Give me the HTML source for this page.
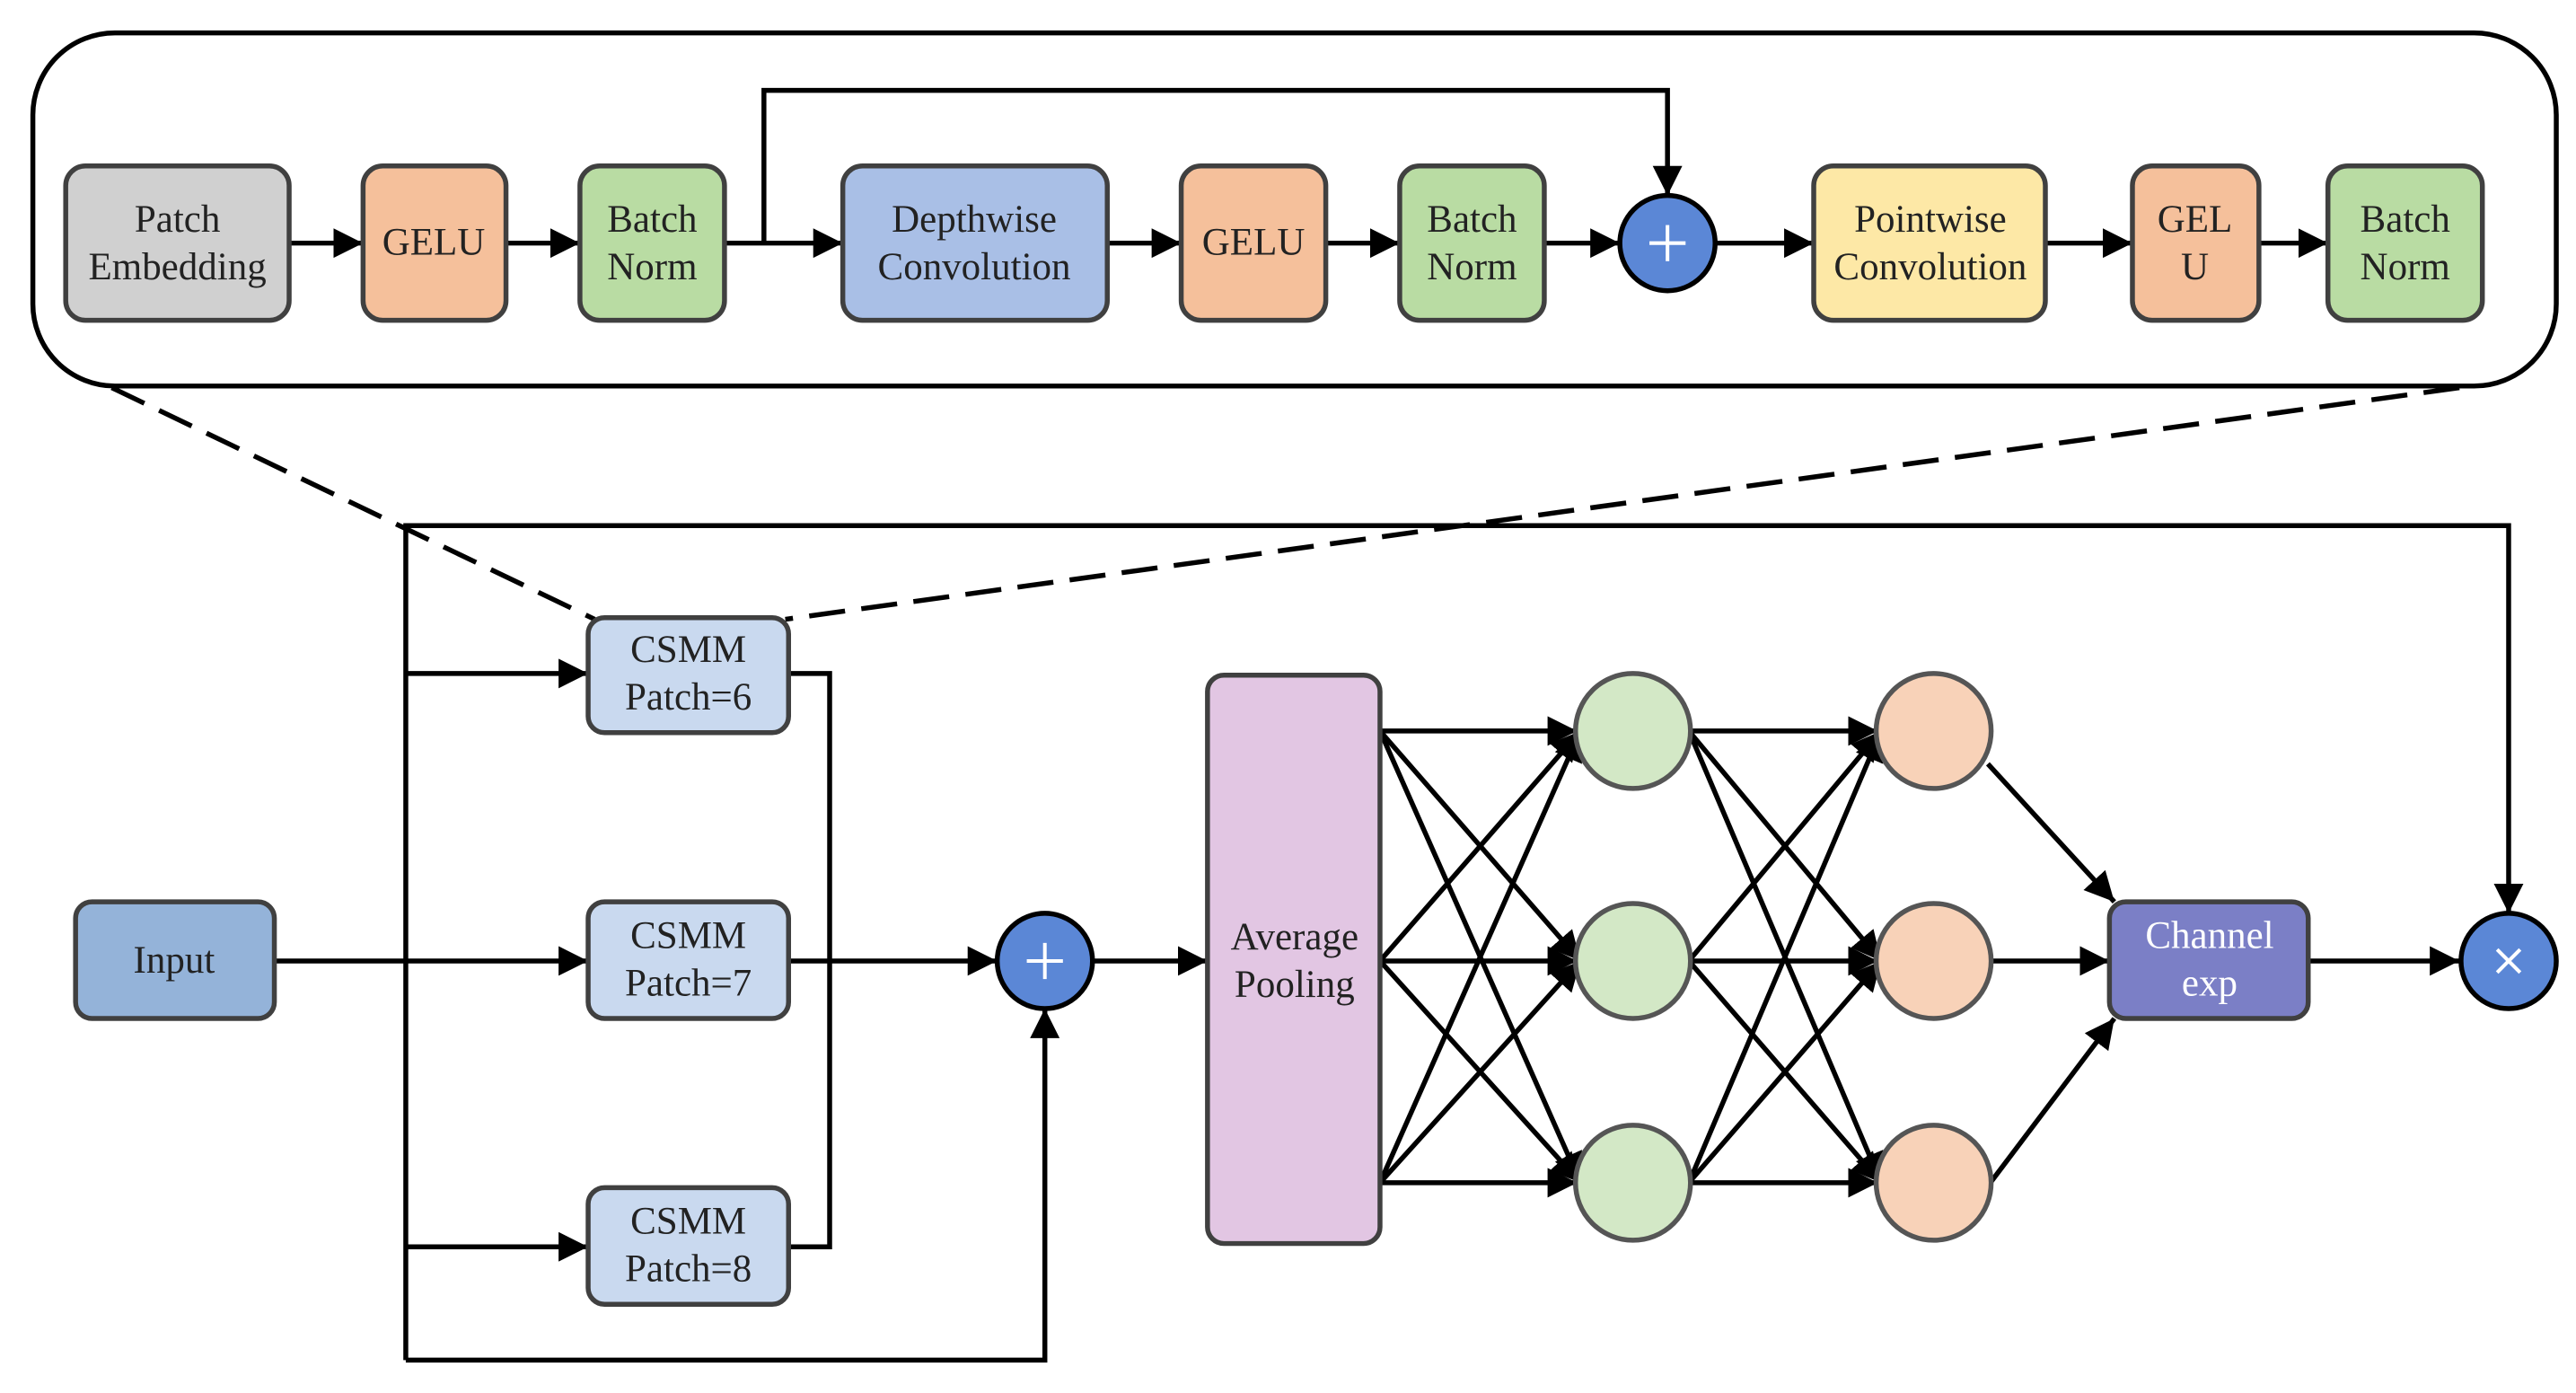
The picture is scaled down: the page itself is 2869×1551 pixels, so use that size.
<!DOCTYPE html>
<html><head><meta charset="utf-8"><style>
html,body{margin:0;padding:0;background:#fff;}
svg{display:block;}
text{font-family:"Liberation Serif",serif;font-size:23.5px;fill:#222;text-anchor:middle;}
</style></head><body>
<svg width="2869" height="1551" viewBox="0 0 1568 848" preserveAspectRatio="none" xmlns="http://www.w3.org/2000/svg">
<defs>
<marker id="b" viewBox="0 0 10 10" refX="10" refY="5" markerWidth="18" markerHeight="18" markerUnits="userSpaceOnUse" orient="auto"><path d="M0,0 L10,5 L0,10 z" fill="#000"/></marker>
</defs>
<g stroke="#000" stroke-width="3" fill="none">
<rect x="20" y="20" width="1536" height="215" rx="50" ry="50"/>
<line x1="176" y1="148" x2="221" y2="148" marker-end="url(#b)"/>
<line x1="308" y1="148" x2="353" y2="148" marker-end="url(#b)"/>
<line x1="441" y1="148" x2="513" y2="148" marker-end="url(#b)"/>
<line x1="674" y1="148" x2="719" y2="148" marker-end="url(#b)"/>
<line x1="807" y1="148" x2="852" y2="148" marker-end="url(#b)"/>
<line x1="940" y1="148" x2="986" y2="148" marker-end="url(#b)"/>
<line x1="1044" y1="148" x2="1104" y2="148" marker-end="url(#b)"/>
<line x1="1245" y1="148" x2="1298" y2="148" marker-end="url(#b)"/>
<line x1="1375" y1="148" x2="1417" y2="148" marker-end="url(#b)"/>
<polyline points="465,148 465,55 1015,55 1015,119" marker-end="url(#b)"/>
<line x1="68" y1="236" x2="362" y2="377" stroke-dasharray="22,10"/>
<line x1="1497" y1="236" x2="478" y2="377" stroke-dasharray="22,10"/>
<line x1="167" y1="585" x2="358" y2="585" marker-end="url(#b)"/>
<polyline points="247,828 247,320 1527,320 1527,556" marker-end="url(#b)"/>
<line x1="247" y1="410" x2="358" y2="410" marker-end="url(#b)"/>
<line x1="247" y1="759" x2="358" y2="759" marker-end="url(#b)"/>
<polyline points="247,828 636,828 636,614" marker-end="url(#b)"/>
<polyline points="480,410 505,410 505,759 480,759"/>
<line x1="480" y1="585" x2="607" y2="585" marker-end="url(#b)"/>
<line x1="665" y1="585" x2="735" y2="585" marker-end="url(#b)"/>
<g marker-end="url(#b)">
<line x1="840" y1="445" x2="960" y2="445"/><line x1="840" y1="445" x2="962" y2="585"/><line x1="840" y1="445" x2="962" y2="720"/>
<line x1="840" y1="585" x2="962" y2="445"/><line x1="840" y1="585" x2="960" y2="585"/><line x1="840" y1="585" x2="962" y2="720"/>
<line x1="840" y1="720" x2="962" y2="445"/><line x1="840" y1="720" x2="962" y2="585"/><line x1="840" y1="720" x2="960" y2="720"/>
<line x1="1028" y1="445" x2="1143" y2="445"/><line x1="1028" y1="445" x2="1145" y2="585"/><line x1="1028" y1="445" x2="1145" y2="720"/>
<line x1="1028" y1="585" x2="1145" y2="445"/><line x1="1028" y1="585" x2="1143" y2="585"/><line x1="1028" y1="585" x2="1145" y2="720"/>
<line x1="1028" y1="720" x2="1145" y2="445"/><line x1="1028" y1="720" x2="1145" y2="585"/><line x1="1028" y1="720" x2="1143" y2="720"/>
<line x1="1210" y1="465" x2="1287" y2="549"/>
<line x1="1212" y1="585" x2="1284" y2="585"/>
<line x1="1210" y1="722" x2="1287" y2="620"/>
<line x1="1405" y1="585" x2="1497" y2="585"/>
</g>
</g>
<g stroke="#404040" stroke-width="3">
<rect x="40" y="101" width="136" height="94" rx="12" fill="#d0d0d0"/>
<rect x="221" y="101" width="87" height="94" rx="12" fill="#f5c09b"/>
<rect x="353" y="101" width="88" height="94" rx="12" fill="#b9dca3"/>
<rect x="513" y="101" width="161" height="94" rx="12" fill="#a9bfe6"/>
<rect x="719" y="101" width="88" height="94" rx="12" fill="#f5c09b"/>
<rect x="852" y="101" width="88" height="94" rx="12" fill="#b9dca3"/>
<rect x="1104" y="101" width="141" height="94" rx="12" fill="#fde8a6"/>
<rect x="1298" y="101" width="77" height="94" rx="12" fill="#f5c09b"/>
<rect x="1417" y="101" width="94" height="94" rx="12" fill="#b9dca3"/>
<rect x="46" y="549" width="121" height="71" rx="10" fill="#94b3d9"/>
<rect x="358" y="376" width="122" height="70" rx="10" fill="#c9d9ef"/>
<rect x="358" y="549" width="122" height="71" rx="10" fill="#c9d9ef"/>
<rect x="358" y="723" width="122" height="71" rx="10" fill="#c9d9ef"/>
<rect x="735" y="411" width="105" height="346" rx="10" fill="#e2c6e3"/>
<rect x="1284" y="549" width="121" height="71" rx="10" fill="#7b7fc6"/>
<g fill="#d3e8c6" stroke="#555"><circle cx="994" cy="445" r="35"/><circle cx="994" cy="585" r="35"/><circle cx="994" cy="720" r="35"/></g>
<g fill="#f8d2b8" stroke="#555"><circle cx="1177" cy="445" r="35"/><circle cx="1177" cy="585" r="35"/><circle cx="1177" cy="720" r="35"/></g>
</g>
<g stroke="#000" stroke-width="3" fill="#5b87d6">
<circle cx="1015" cy="148" r="29"/><circle cx="636" cy="585" r="29"/><circle cx="1527" cy="585" r="29"/>
</g>
<g stroke="#fff" stroke-width="2.2">
<line x1="1004" y1="148" x2="1026" y2="148"/><line x1="1015" y1="137" x2="1015" y2="159"/>
<line x1="625" y1="585" x2="647" y2="585"/><line x1="636" y1="574" x2="636" y2="596"/>
<line x1="1520" y1="578" x2="1534" y2="592"/><line x1="1534" y1="578" x2="1520" y2="592"/>
</g>
<text x="108" y="141">Patch</text><text x="108" y="170">Embedding</text>
<text x="264" y="155">GELU</text>
<text x="397" y="141">Batch</text><text x="397" y="170">Norm</text>
<text x="593" y="141">Depthwise</text><text x="593" y="170">Convolution</text>
<text x="763" y="155">GELU</text>
<text x="896" y="141">Batch</text><text x="896" y="170">Norm</text>
<text x="1175" y="141">Pointwise</text><text x="1175" y="170">Convolution</text>
<text x="1336" y="141">GEL</text><text x="1336" y="170">U</text>
<text x="1464" y="141">Batch</text><text x="1464" y="170">Norm</text>
<text x="106" y="592">Input</text>
<text x="419" y="403">CSMM</text><text x="419" y="432">Patch=6</text>
<text x="419" y="577">CSMM</text><text x="419" y="606">Patch=7</text>
<text x="419" y="751">CSMM</text><text x="419" y="780">Patch=8</text>
<text x="788" y="578">Average</text><text x="788" y="607">Pooling</text>
<text x="1345" y="577" style="fill:#fff">Channel</text><text x="1345" y="606" style="fill:#fff">exp</text>
</svg>
</body></html>
